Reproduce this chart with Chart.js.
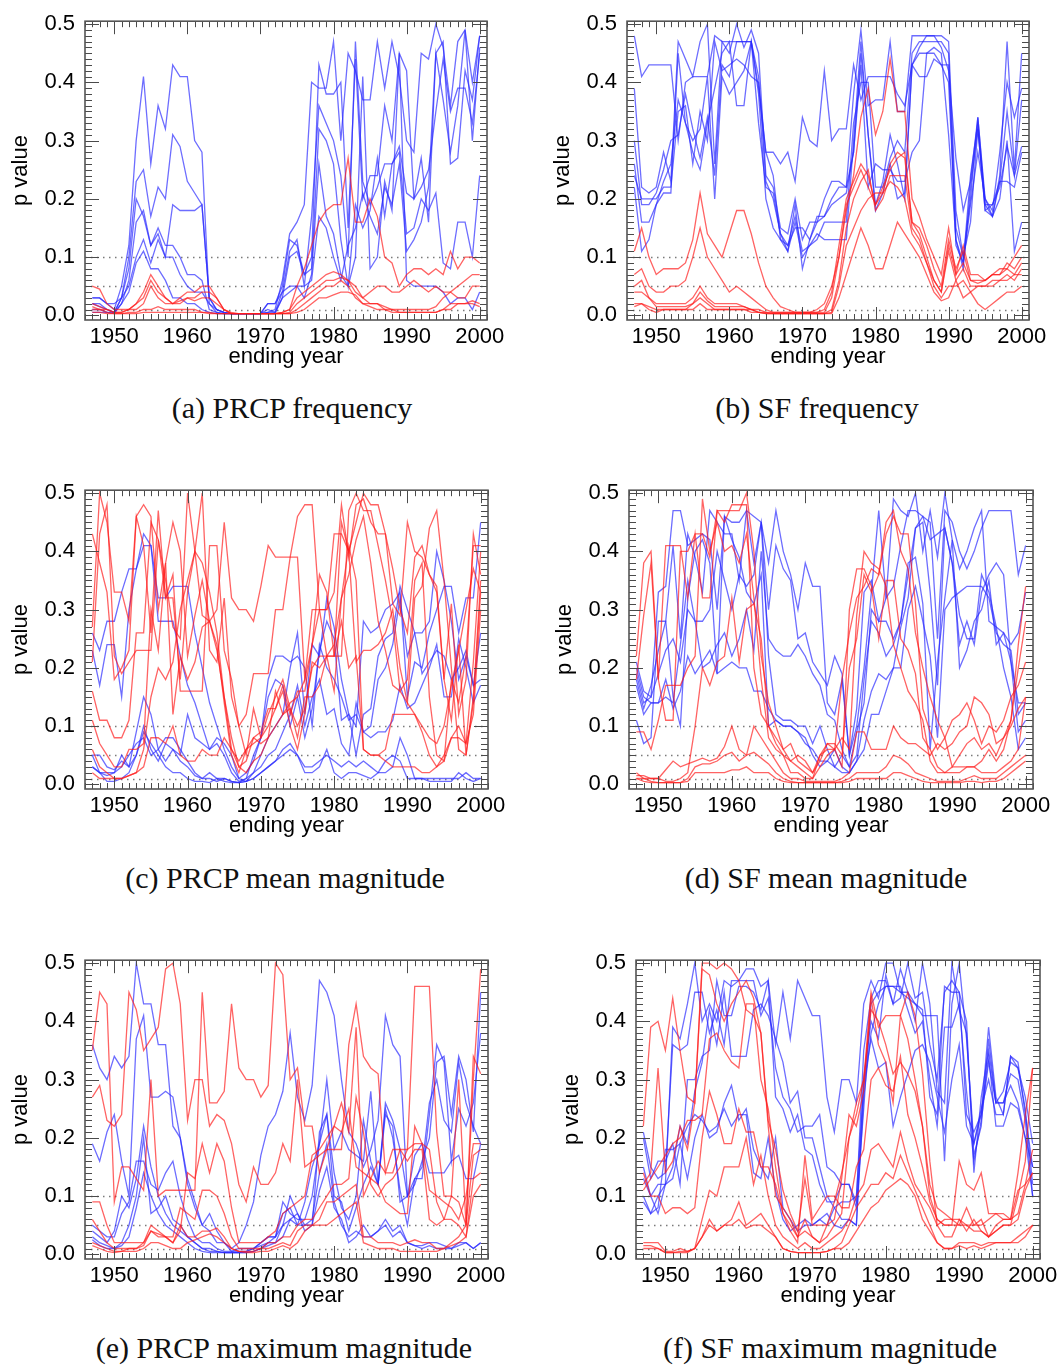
<!DOCTYPE html>
<html>
<head>
<meta charset="utf-8">
<script src="https://cdn.jsdelivr.net/npm/chart.js@4.4.1/dist/chart.umd.min.js"></script>
<style>
  body { margin: 0; background: #fff; width: 1060px; height: 1365px; position: relative; overflow: hidden; }
  .panel { position: absolute; }
  .caption { position: absolute; font-family: 'Liberation Serif', 'Times New Roman', serif; font-size: 30px; color: #111;
             transform: translateX(-50%); white-space: nowrap; line-height: 34px; }
</style>
</head>
<body>
<div class="panel" style="left:0;top:-2px;width:511px;height:372px"><canvas id="ca"></canvas></div>
<div class="panel" style="left:542px;top:-2px;width:511px;height:372px"><canvas id="cb"></canvas></div>
<div class="panel" style="left:0;top:467px;width:512px;height:372px"><canvas id="cc"></canvas></div>
<div class="panel" style="left:544px;top:467px;width:513px;height:372px"><canvas id="cd"></canvas></div>
<div class="panel" style="left:0;top:937px;width:512px;height:372px"><canvas id="ce"></canvas></div>
<div class="panel" style="left:551px;top:937px;width:513px;height:372px"><canvas id="cf"></canvas></div>

<div class="caption" style="left:292px;top:391px">(a) PRCP frequency</div>
<div class="caption" style="left:817px;top:391px">(b) SF frequency</div>
<div class="caption" style="left:285px;top:861px">(c) PRCP mean magnitude</div>
<div class="caption" style="left:826px;top:861px">(d) SF mean magnitude</div>
<div class="caption" style="left:284px;top:1331px">(e) PRCP maximum magnitude</div>
<div class="caption" style="left:830px;top:1331px">(f) SF maximum magnitude</div>

<script>
// ending years of the moving windows
const years = [1947,1948,1949,
  1950,1951,1952,1953,1954,1955,1956,1957,1958,1959,
  1960,1961,1962,1963,1964,1965,1966,1967,1968,1969,
  1970,1971,1972,1973,1974,1975,1976,1977,1978,1979,
  1980,1981,1982,1983,1984,1985,1986,1987,1988,1989,
  1990,1991,1992,1993,1994,1995,1996,1997,1998,1999,
  2000];
const yearTicks = [1950, 1960, 1970, 1980, 1990, 2000];
const pTicks = [0, 0.1, 0.2, 0.3, 0.4, 0.5];
const refLevels = [0.1, 0.05, 0.01];

// (a) PRCP frequency
const prcpFreqBlue = [
  [.03,.03,.02, .01,.05,.12,.30,.41,.26,.36,.32,.43,.41, .41,.30,.28,.02,.01,.005,.003,.003,.003,.003, .003,.005,.01,.06,.14,.16,.19,.40,.39,.39, .47,.30,.45,.42,.37,.37,.47,.39,.47,.41, .30,.28,.45,.44,.50,.46,.36,.47,.49,.40, .48],
  [.02,.02,.01, .005,.03,.10,.23,.25,.17,.22,.20,.31,.29, .23,.21,.19,.03,.01,.005,.003,.003,.003,.003, .003,.02,.02,.05,.13,.12,.07,.10,.43,.38, .38,.40,.15,.44,.20,.24,.24,.36,.30,.45, .42,.20,.22,.25,.35,.44,.35,.39,.39,.33, .45],
  [.01,.01,.005, .005,.03,.08,.20,.17,.12,.14,.10,.19,.18, .18,.18,.19,.03,.01,.005,.003,.003,.003,.003, .003,.01,.005,.04,.11,.13,.05,.17,.36,.33, .30,.24,.10,.47,.23,.19,.22,.26,.26,.29, .21,.20,.27,.16,.45,.47,.26,.27,.42,.37, .48],
  [.005,.005,.005, .003,.02,.06,.16,.18,.12,.15,.12,.12,.10, .07,.07,.06,.01,.005,.003,.003,.003,.003,.003, .003,.005,.005,.03,.10,.11,.07,.08,.32,.30, .26,.13,.05,.19,.15,.18,.27,.17,.26,.28, .14,.15,.20,.18,.21,.09,.08,.16,.16,.10, .24],
  [.03,.03,.02, .02,.03,.05,.10,.13,.09,.13,.10,.10,.07, .05,.04,.04,.02,.005,.003,.003,.003,.003,.003, .003,.02,.02,.04,.05,.05,.03,.07,.26,.17, .14,.07,.05,.10,.41,.08,.10,.23,.18,.45, .06,.05,.05,.05,.05,.04,.02,.03,.03,.01, .04],
  [.02,.015,.01, .005,.02,.04,.09,.11,.08,.08,.06,.03,.03, .02,.02,.01,.005,.003,.003,.003,.003,.003,.003, .003,.003,.003,.03,.04,.05,.05,.06,.17,.15, .10,.06,.12,.15,.21,.17,.14,.22,.19,.26, .11,.13,.16,.22,.45,.37,.28,.36,.49,.30, .46]
];
const prcpFreqRed = [
  [.05,.045,.02, .01,.01,.01,.02,.04,.07,.05,.03,.02,.03, .04,.04,.05,.05,.03,.01,.005,.003,.003,.003, .003,.003,.003,.005,.01,.05,.08,.12,.16,.18, .19,.19,.27,.16,.16,.20,.17,.10,.09,.05, .07,.08,.08,.07,.08,.07,.11,.08,.10,.10, .09],
  [.02,.015,.01, .005,.005,.01,.02,.03,.06,.04,.03,.02,.02, .03,.03,.04,.04,.03,.01,.003,.003,.003,.003, .003,.003,.003,.005,.01,.03,.04,.05,.06,.07, .075,.07,.06,.04,.03,.04,.05,.05,.04,.04, .05,.06,.05,.04,.05,.04,.04,.05,.06,.07, .07],
  [.015,.01,.01, .005,.005,.01,.01,.02,.05,.03,.02,.02,.025, .03,.025,.03,.03,.02,.01,.003,.003,.003,.003, .003,.003,.003,.003,.005,.02,.03,.04,.05,.06, .06,.065,.06,.05,.03,.02,.02,.015,.01,.01, .01,.01,.01,.01,.015,.03,.04,.03,.03,.05, .05],
  [.01,.01,.005, .003,.003,.005,.005,.01,.01,.015,.01,.01,.01, .01,.01,.005,.005,.003,.003,.003,.003,.003,.003, .003,.003,.003,.003,.003,.01,.02,.03,.04,.05, .05,.06,.05,.03,.02,.02,.02,.01,.005,.005, .005,.005,.005,.005,.005,.01,.02,.02,.02,.02, .015],
  [.005,.005,.003, .003,.003,.003,.003,.005,.005,.005,.005,.005,.005, .005,.005,.005,.003,.003,.003,.003,.003,.003,.003, .003,.003,.003,.003,.003,.005,.01,.02,.03,.03, .035,.04,.04,.035,.02,.015,.01,.01,.01,.005, .005,.005,.005,.005,.005,.01,.01,.02,.02,.025, .02]
];

// (b) SF frequency
const sfFreqBlue = [
  [.48,.41,.43, .43,.43,.43,.30,.40,.41,.41,.41,.48,.47, .47,.47,.47,.47,.39,.28,.28,.26,.28,.23, .34,.30,.29,.42,.30,.32,.32,.43,.37,.41, .41,.41,.41,.38,.36,.43,.46,.48,.48,.46, .42,.27,.18,.23,.34,.19,.19,.23,.23,.22, .28],
  [.39,.22,.21, .22,.28,.23,.47,.44,.41,.47,.50,.26,.47, .45,.50,.46,.49,.45,.24,.22,.15,.14,.20, .13,.16,.16,.20,.23,.23,.22,.38,.49,.36, .37,.37,.47,.35,.35,.48,.48,.48,.48,.48, .47,.18,.10,.20,.34,.20,.18,.28,.40,.34, .39],
  [.30,.19,.19, .21,.25,.30,.31,.38,.32,.27,.34,.24,.43, .41,.47,.47,.47,.41,.23,.20,.14,.12,.17, .11,.12,.13,.16,.16,.16,.16,.33,.40,.40, .22,.22,.27,.30,.28,.45,.47,.47,.47,.47, .45,.15,.10,.16,.32,.18,.17,.24,.47,.25, .45],
  [.26,.16,.16, .19,.21,.21,.45,.33,.28,.25,.33,.39,.45, .47,.36,.36,.47,.38,.20,.15,.13,.11,.16, .10,.12,.14,.13,.13,.13,.13,.30,.47,.31, .19,.23,.31,.26,.20,.43,.41,.41,.44,.43, .43,.12,.09,.24,.33,.18,.19,.22,.29,.24, .29],
  [.22,.11,.13, .19,.23,.26,.37,.33,.30,.32,.41,.20,.41, .38,.40,.42,.47,.33,.22,.21,.14,.11,.19, .08,.13,.16,.17,.20,.22,.22,.28,.45,.31, .18,.21,.26,.20,.21,.43,.45,.45,.46,.45, .31,.13,.08,.22,.32,.19,.17,.20,.30,.11, .16],
  [.24,.20,.20, .20,.22,.22,.35,.36,.26,.35,.30,.47,.42, .43,.44,.43,.41,.40,.28,.24,.13,.12,.15, .15,.13,.17,.17,.19,.20,.21,.28,.43,.22, .26,.25,.25,.23,.23,.28,.30,.45,.45,.43, .40,.13,.09,.19,.28,.20,.17,.23,.35,.24, .37]
];
const sfFreqRed = [
  [.11,.15,.10, .07,.08,.08,.08,.09,.13,.21,.14,.12,.10, .14,.18,.18,.14,.09,.05,.03,.015,.01,.005, .005,.005,.01,.02,.05,.10,.18,.24,.34,.39, .31,.35,.44,.35,.35,.20,.17,.13,.10,.07, .15,.07,.12,.07,.07,.06,.07,.08,.08,.10, .12],
  [.07,.08,.05, .04,.04,.05,.05,.06,.10,.15,.10,.08,.06, .04,.05,.04,.03,.02,.01,.005,.005,.005,.005, .005,.005,.005,.01,.04,.12,.20,.23,.26,.24, .19,.21,.26,.28,.27,.16,.15,.12,.08,.05, .13,.08,.11,.06,.06,.06,.07,.07,.09,.08, .10],
  [.05,.06,.03, .02,.02,.02,.02,.02,.03,.05,.03,.02,.02, .02,.02,.015,.01,.01,.005,.005,.005,.005,.005, .005,.005,.005,.005,.03,.10,.19,.22,.25,.22, .19,.22,.25,.27,.28,.16,.14,.10,.06,.04, .12,.07,.09,.06,.055,.06,.07,.07,.08,.07, .09],
  [.04,.04,.03, .015,.015,.015,.015,.015,.02,.04,.025,.015,.015, .015,.015,.015,.01,.005,.005,.003,.003,.003,.003, .003,.003,.003,.003,.01,.06,.15,.20,.23,.25, .18,.20,.24,.24,.24,.15,.13,.09,.06,.04, .11,.06,.08,.05,.05,.05,.06,.06,.07,.06, .08],
  [.02,.02,.015, .01,.01,.01,.01,.01,.01,.02,.01,.01,.01, .01,.01,.01,.005,.005,.003,.003,.003,.003,.003, .003,.003,.003,.003,.003,.03,.07,.11,.15,.12, .08,.08,.12,.16,.14,.12,.10,.07,.04,.025, .03,.06,.03,.04,.02,.01,.02,.03,.04,.04, .05],
  [.015,.02,.01, .005,.01,.01,.01,.01,.02,.03,.02,.01,.01, .01,.01,.01,.01,.005,.003,.003,.003,.003,.003, .003,.003,.003,.003,.005,.05,.12,.15,.18,.20, .21,.21,.23,.22,.20,.14,.12,.09,.05,.03, .05,.05,.06,.04,.05,.05,.05,.06,.06,.07, .07]
];

// (c) PRCP mean magnitude
const prcpMeanBlue = [
  [.26,.23,.28, .28,.33,.37,.37,.43,.41,.32,.32,.34,.34, .34,.26,.20,.14,.10,.06,.03,.01,.005,.02, .05,.08,.10,.12,.20,.26,.12,.24,.22,.32, .27,.18,.12,.10,.28,.26,.27,.30,.31,.33, .15,.21,.20,.26,.30,.34,.34,.26,.32,.32, .45],
  [.23,.17,.24, .24,.15,.30,.37,.41,.41,.28,.28,.28,.22, .17,.14,.10,.06,.07,.05,.02,.005,.01,.05, .08,.18,.22,.22,.21,.22,.20,.10,.24,.20, .18,.15,.11,.12,.09,.10,.18,.20,.24,.32, .22,.26,.26,.28,.40,.35,.28,.18,.22,.17, .18],
  [.05,.05,.03, .025,.04,.03,.09,.15,.12,.06,.04,.06,.05, .12,.08,.07,.06,.08,.07,.05,.01,.02,.04, .08,.15,.18,.17,.10,.15,.08,.13,.23,.28, .25,.11,.12,.05,.12,.13,.22,.25,.26,.34, .30,.26,.19,.21,.23,.22,.18,.20,.23,.17, .26],
  [.03,.02,.015, .02,.05,.03,.05,.10,.06,.04,.07,.06,.04, .03,.015,.01,.01,.005,.01,.005,.003,.01,.02, .03,.05,.06,.09,.12,.17,.10,.15,.18,.12, .13,.07,.05,.14,.09,.08,.09,.09,.11,.17, .13,.14,.17,.20,.24,.15,.15,.25,.20,.14, .17],
  [.05,.02,.02, .02,.03,.05,.07,.08,.05,.06,.08,.08,.06, .04,.02,.01,.02,.01,.01,.005,.003,.005,.01, .02,.03,.04,.05,.06,.05,.03,.03,.04,.05, .04,.03,.04,.03,.04,.03,.02,.02,.03,.08, .05,.01,.01,.01,.01,.01,.01,.01,.02,.01, .01],
  [.03,.02,.005, .005,.01,.02,.05,.09,.07,.05,.03,.02,.02, .01,.005,.005,.003,.01,.005,.003,.003,.005,.01, .02,.03,.04,.06,.07,.05,.02,.02,.03,.06, .02,.01,.02,.02,.015,.01,.02,.04,.05,.04, .01,.01,.01,.005,.005,.005,.005,.02,.01,.005, .01]
];
const prcpMeanRed = [
  [.43,.38,.33, .18,.20,.23,.46,.48,.46,.30,.38,.45,.40, .22,.29,.35,.28,.30,.45,.32,.30,.30,.28, .34,.41,.39,.39,.39,.39,.18,.24,.30,.30, .33,.48,.39,.48,.49,.45,.43,.43,.37,.30, .26,.39,.41,.36,.33,.18,.31,.12,.18,.43, .36],
  [.27,.50,.45, .33,.33,.28,.46,.41,.26,.47,.32,.32,.18, .33,.40,.50,.23,.21,.32,.15,.10,.12,.19, .19,.19,.30,.30,.39,.46,.48,.48,.30,.30, .43,.43,.40,.45,.50,.48,.48,.43,.31,.29, .45,.40,.39,.36,.34,.18,.11,.24,.05,.15, .35],
  [.21,.43,.48, .22,.19,.21,.23,.23,.23,.42,.32,.36,.16, .16,.16,.16,.41,.41,.23,.18,.10,.05,.13, .08,.10,.13,.17,.12,.16,.16,.24,.36,.33, .22,.22,.47,.50,.47,.47,.41,.35,.28,.16, .18,.35,.38,.15,.05,.04,.18,.14,.22,.41, .41],
  [.16,.11,.11, .08,.08,.11,.26,.26,.45,.42,.35,.27,.25, .50,.40,.29,.28,.24,.14,.05,.02,.06,.08, .07,.08,.16,.12,.13,.10,.13,.20,.22,.22, .22,.45,.40,.21,.23,.23,.24,.26,.30,.20, .14,.32,.34,.44,.47,.35,.20,.06,.05,.14, .33],
  [.11,.07,.05, .03,.03,.06,.06,.07,.30,.23,.38,.12,.22, .18,.21,.27,.28,.23,.15,.08,.03,.04,.08, .09,.13,.13,.16,.10,.06,.12,.21,.20,.22, .16,.32,.41,.35,.06,.05,.05,.06,.12,.12, .12,.12,.09,.05,.03,.04,.08,.08,.07,.21, .40],
  [.06,.03,.02, .01,.01,.015,.02,.03,.08,.08,.07,.10,.05, .04,.04,.06,.05,.05,.08,.06,.04,.06,.07, .08,.12,.15,.18,.13,.08,.15,.15,.17,.22, .22,.28,.20,.22,.06,.05,.05,.04,.03,.03, .03,.03,.02,.02,.03,.05,.08,.10,.07,.12, .30],
  [.02,.01,.01, .01,.01,.015,.02,.06,.15,.20,.18,.21,.30, .35,.40,.38,.33,.26,.15,.06,.03,.02,.04, .05,.08,.10,.12,.14,.15,.18,.30,.30,.22, .24,.32,.36,.42,.46,.38,.28,.23,.17,.16, .14,.12,.10,.08,.07,.10,.17,.23,.30,.37, .33]
];

// (d) SF mean magnitude
const sfMeanBlue = [
  [.21,.16,.15, .33,.34,.47,.47,.41,.42,.43,.42,.30,.46, .45,.45,.47,.46,.45,.38,.47,.40,.36,.30, .38,.34,.34,.14,.12,.18,.05,.10,.20,.33, .47,.32,.34,.41,.47,.47,.46,.45,.25,.47, .45,.40,.37,.40,.44,.47,.47,.47,.47,.36, .41],
  [.18,.13,.17, .23,.28,.41,.25,.43,.39,.33,.47,.45,.43, .43,.35,.47,.38,.45,.30,.41,.37,.35,.25, .26,.21,.19,.17,.22,.19,.05,.13,.33,.35, .28,.32,.49,.47,.46,.50,.40,.47,.39,.50, .42,.37,.40,.44,.47,.28,.27,.26,.24,.26, .33],
  [.11,.07,.08, .28,.28,.15,.10,.32,.40,.42,.38,.19,.46, .42,.39,.33,.31,.36,.10,.11,.10,.10,.09, .08,.05,.03,.04,.06,.03,.02,.04,.06,.12, .12,.16,.20,.27,.32,.44,.45,.33,.17,.44, .38,.29,.25,.25,.36,.33,.27,.20,.15,.06, .08],
  [.20,.15,.14, .14,.15,.14,.24,.35,.28,.28,.30,.40,.35, .30,.36,.34,.36,.45,.22,.12,.11,.11,.10, .10,.07,.10,.06,.03,.05,.03,.05,.18,.28, .26,.22,.24,.28,.38,.39,.31,.06,.21,.32, .42,.20,.23,.28,.30,.35,.24,.26,.21,.14, .14],
  [.19,.14,.15, .19,.23,.25,.21,.30,.28,.20,.21,.24,.26, .22,.25,.30,.23,.40,.25,.23,.22,.22,.24, .22,.19,.17,.12,.11,.06,.03,.09,.14,.30, .28,.28,.25,.28,.36,.44,.46,.42,.43,.44, .38,.24,.28,.24,.33,.36,.38,.36,.21,.09, .11],
  [.17,.12,.14, .14,.18,.13,.16,.22,.19,.21,.23,.19,.20, .21,.20,.20,.16,.16,.13,.11,.10,.10,.09, .07,.06,.04,.04,.03,.02,.02,.04,.11,.16, .19,.18,.20,.20,.30,.34,.28,.22,.08,.30, .32,.33,.34,.34,.34,.32,.26,.24,.23,.12, .14]
];
const sfMeanRed = [
  [.22,.38,.40, .18,.11,.11,.40,.40,.43,.43,.39,.47,.45, .48,.48,.48,.20,.12,.10,.08,.06,.07,.04, .03,.02,.05,.07,.07,.05,.20,.25,.36,.33, .36,.45,.47,.40,.37,.26,.20,.15,.11,.08, .11,.12,.14,.11,.07,.10,.09,.11,.15,.17, .21],
  [.18,.29,.38, .18,.41,.41,.41,.32,.43,.32,.32,.47,.47, .47,.47,.50,.40,.22,.14,.10,.06,.04,.05, .04,.02,.04,.07,.06,.18,.26,.32,.34,.37, .36,.43,.46,.43,.43,.31,.13,.09,.06,.08, .03,.05,.07,.08,.06,.07,.05,.08,.11,.24, .34],
  [.09,.09,.06, .11,.17,.17,.17,.20,.22,.49,.40,.45,.40, .41,.38,.43,.32,.18,.08,.06,.05,.04,.03, .02,.01,.03,.05,.06,.03,.30,.37,.37,.34, .25,.35,.35,.25,.23,.19,.08,.06,.03,.02, .03,.03,.03,.03,.04,.06,.04,.06,.11,.20, .28],
  [.02,.01,.01, .01,.005,.005,.01,.02,.10,.20,.17,.21,.22, .32,.21,.30,.31,.25,.10,.07,.05,.02,.02, .01,.01,.05,.06,.06,.08,.06,.29,.40,.38, .37,.34,.24,.20,.16,.14,.11,.04,.02,.02, .02,.02,.03,.03,.02,.02,.02,.03,.04,.06, .15],
  [.015,.015,.01, .01,.025,.04,.03,.035,.04,.045,.04,.045,.065, .10,.06,.05,.10,.08,.06,.04,.02,.01,.01, .005,.005,.005,.005,.005,.01,.02,.09,.09,.06, .06,.06,.10,.08,.07,.07,.06,.05,.07,.06, .07,.09,.10,.15,.14,.12,.07,.08,.10,.13, .15],
  [.01,.005,.003, .003,.003,.003,.003,.01,.03,.035,.035,.04,.05, .055,.04,.05,.055,.045,.035,.02,.01,.005,.003, .003,.003,.003,.003,.003,.005,.01,.02,.02,.02, .02,.03,.05,.045,.035,.02,.015,.01,.005,.005, .005,.005,.01,.015,.01,.01,.01,.02,.03,.04, .05],
  [.01,.01,.005, .003,.003,.003,.003,.005,.02,.02,.02,.02,.02, .025,.025,.03,.02,.02,.02,.01,.005,.003,.003, .003,.003,.003,.003,.003,.003,.005,.01,.01,.01, .01,.01,.02,.02,.015,.01,.005,.003,.003,.003, .003,.003,.005,.005,.003,.005,.005,.01,.02,.03, .04]
];

// (e) PRCP maximum magnitude
const prcpMaxBlue = [
  [.36,.32,.30, .34,.32,.34,.50,.43,.43,.36,.36,.22,.20, .13,.09,.05,.04,.02,.02,.01,.02,.05,.09, .17,.22,.24,.28,.38,.27,.23,.29,.47,.45, .41,.30,.21,.19,.15,.18,.23,.41,.36,.34, .10,.12,.16,.20,.33,.34,.24,.34,.30,.21, .45],
  [.19,.16,.21, .24,.16,.10,.37,.41,.27,.27,.28,.27,.20, .12,.08,.05,.07,.04,.02,.005,.01,.01,.01, .02,.03,.03,.07,.08,.05,.09,.15,.19,.30, .18,.21,.18,.17,.16,.28,.12,.24,.22,.09, .10,.17,.19,.14,.14,.14,.16,.17,.13,.13, .19],
  [.05,.04,.03, .03,.07,.09,.16,.16,.12,.11,.14,.16,.10, .06,.03,.02,.02,.01,.005,.005,.005,.005,.01, .02,.03,.03,.05,.06,.07,.04,.05,.21,.24, .14,.08,.06,.10,.23,.16,.12,.26,.23,.18, .10,.13,.13,.24,.36,.33,.16,.25,.22,.26, .38],
  [.04,.03,.02, .04,.10,.08,.13,.22,.15,.10,.07,.05,.04, .03,.02,.01,.005,.005,.003,.003,.003,.005,.01, .015,.02,.03,.09,.07,.06,.06,.10,.19,.24, .10,.09,.04,.08,.12,.15,.12,.25,.20,.11, .05,.13,.15,.26,.30,.23,.21,.33,.26,.22, .19],
  [.03,.02,.015, .01,.02,.05,.10,.20,.07,.08,.10,.06,.05, .03,.02,.01,.01,.005,.003,.003,.003,.003,.005, .01,.02,.02,.05,.10,.07,.05,.06,.14,.19, .09,.05,.03,.04,.03,.03,.04,.06,.04,.05, .02,.015,.015,.02,.02,.015,.01,.02,.02,.01, .02],
  [.025,.015,.01, .01,.015,.03,.08,.14,.10,.07,.05,.04,.03, .02,.01,.005,.003,.003,.003,.003,.003,.003,.005, .01,.015,.02,.03,.06,.05,.05,.05,.11,.15, .08,.06,.02,.03,.05,.03,.04,.05,.03,.04, .02,.015,.01,.015,.01,.01,.01,.015,.02,.01, .02]
];
const prcpMaxRed = [
  [.35,.45,.43, .09,.15,.15,.13,.11,.30,.10,.11,.11,.11, .11,.11,.45,.26,.26,.28,.43,.32,.30,.30, .27,.29,.50,.48,.30,.32,.22,.22,.14,.18, .18,.18,.36,.43,.34,.32,.31,.14,.18,.18, .18,.46,.46,.46,.21,.10,.10,.09,.05,.34, .31],
  [.27,.29,.23, .22,.24,.45,.42,.35,.37,.39,.49,.50,.43, .23,.30,.30,.22,.24,.23,.19,.12,.09,.15, .12,.12,.14,.19,.16,.30,.15,.16,.17,.18, .22,.26,.21,.39,.10,.13,.16,.14,.14,.18, .16,.18,.18,.06,.05,.06,.10,.30,.05,.30, .49],
  [.09,.09,.05, .02,.02,.02,.02,.02,.04,.03,.03,.02,.04, .14,.13,.19,.14,.19,.16,.08,.02,.02,.02, .02,.03,.04,.07,.08,.09,.10,.17,.18,.20, .22,.21,.25,.15,.14,.13,.12,.09,.08,.07, .07,.22,.19,.11,.10,.09,.08,.06,.10,.19, .19],
  [.06,.04,.02, .01,.01,.01,.01,.02,.05,.04,.03,.03,.08, .07,.06,.11,.11,.10,.07,.03,.01,.01,.01, .01,.02,.02,.03,.03,.05,.06,.06,.08,.10, .12,.12,.13,.27,.21,.12,.10,.12,.13,.15, .18,.19,.19,.18,.09,.06,.06,.05,.03,.13, .14],
  [.02,.015,.01, .005,.005,.01,.01,.015,.04,.035,.03,.02,.05, .03,.03,.04,.04,.045,.03,.01,.005,.005,.005, .01,.01,.015,.02,.015,.04,.05,.05,.06,.09, .09,.10,.11,.12,.03,.03,.02,.02,.02,.015, .02,.025,.02,.02,.01,.01,.02,.03,.05,.17, .18],
  [.015,.01,.005, .003,.005,.005,.005,.01,.02,.02,.015,.01,.01, .02,.025,.03,.035,.03,.02,.01,.005,.003,.003, .005,.005,.01,.015,.01,.02,.04,.05,.05,.05, .06,.07,.08,.09,.02,.015,.01,.01,.01,.005, .005,.005,.005,.005,.005,.01,.015,.02,.03,.10, .12]
];

// (f) SF maximum magnitude
const sfMaxBlue = [
  [.21,.15,.13, .14,.36,.35,.36,.45,.45,.38,.42,.36,.47, .47,.49,.49,.46,.47,.36,.45,.37,.47,.44, .41,.41,.27,.21,.30,.30,.26,.43,.47,.44, .50,.50,.45,.45,.43,.41,.41,.41,.16,.43, .50,.37,.19,.24,.39,.27,.24,.34,.32,.27, .19],
  [.15,.10,.07, .12,.39,.37,.43,.50,.40,.43,.40,.47,.46, .47,.47,.47,.41,.44,.32,.27,.25,.21,.22, .22,.24,.15,.14,.12,.12,.09,.35,.44,.47, .47,.43,.49,.45,.40,.50,.43,.28,.26,.50, .42,.38,.17,.22,.37,.26,.26,.31,.30,.23, .10],
  [.20,.13,.16, .16,.19,.12,.30,.30,.34,.35,.47,.41,.41, .46,.46,.45,.42,.47,.27,.25,.21,.24,.18, .17,.12,.09,.09,.12,.12,.08,.25,.43,.45, .46,.46,.46,.42,.38,.40,.30,.22,.39,.39, .43,.28,.16,.23,.33,.26,.26,.29,.26,.20, .15],
  [.10,.07,.10, .12,.13,.19,.13,.20,.24,.20,.21,.26,.29, .23,.25,.18,.15,.13,.20,.08,.06,.04,.05, .05,.06,.05,.08,.09,.09,.10,.29,.37,.32, .33,.22,.27,.31,.35,.36,.33,.27,.21,.30, .36,.22,.19,.25,.30,.24,.24,.34,.33,.24, .15],
  [.09,.07,.08, .18,.18,.19,.22,.24,.23,.21,.22,.25,.22, .24,.24,.14,.13,.20,.11,.06,.04,.05,.06, .05,.06,.07,.05,.045,.06,.05,.27,.38,.43, .46,.46,.45,.44,.43,.42,.27,.24,.46,.45, .45,.40,.14,.27,.35,.26,.28,.33,.32,.25, .12],
  [.13,.10,.12, .12,.15,.22,.19,.28,.33,.42,.36,.45,.34, .34,.34,.42,.43,.41,.37,.33,.26,.28,.20, .20,.15,.10,.08,.06,.06,.05,.30,.40,.37, .48,.43,.44,.50,.44,.45,.36,.30,.45,.47, .45,.24,.21,.24,.34,.22,.22,.26,.25,.20, .10]
];
const sfMaxRed = [
  [.22,.39,.40, .35,.44,.35,.27,.26,.49,.48,.43,.40,.43, .45,.47,.44,.38,.23,.18,.11,.07,.04,.13, .05,.05,.05,.09,.14,.20,.24,.30,.45,.39, .41,.41,.41,.45,.41,.31,.16,.05,.06,.06, .06,.05,.05,.05,.06,.07,.06,.06,.14,.24, .32],
  [.12,.14,.32, .14,.16,.22,.18,.26,.50,.50,.49,.50,.49, .47,.42,.41,.38,.22,.10,.08,.06,.03,.06, .03,.02,.05,.06,.13,.24,.22,.28,.44,.36, .33,.26,.41,.37,.30,.22,.10,.06,.05,.05, .05,.05,.04,.04,.03,.04,.05,.05,.10,.16, .32],
  [.11,.13,.15, .17,.19,.20,.23,.23,.24,.37,.38,.35,.33, .32,.43,.43,.30,.25,.15,.07,.05,.03,.04, .03,.02,.03,.05,.07,.20,.26,.30,.42,.40, .36,.31,.33,.31,.28,.22,.12,.08,.07,.06, .05,.08,.05,.06,.03,.05,.06,.06,.07,.12, .14],
  [.14,.10,.10, .07,.08,.08,.07,.08,.20,.28,.24,.19,.19, .25,.21,.21,.15,.15,.12,.07,.04,.02,.17, .06,.08,.10,.10,.08,.08,.15,.18,.30,.32, .29,.28,.34,.24,.20,.15,.09,.06,.05,.05, .16,.12,.11,.14,.07,.07,.07,.06,.11,.12, .18],
  [.02,.02,.02, .005,.005,.01,.005,.01,.06,.11,.10,.15,.15, .15,.20,.12,.17,.10,.05,.03,.02,.01,.02, .01,.01,.02,.03,.04,.06,.10,.12,.18,.19, .17,.15,.21,.16,.12,.10,.08,.05,.03,.03, .06,.04,.06,.04,.03,.04,.05,.05,.06,.11, .14],
  [.015,.015,.01, .003,.003,.005,.005,.01,.03,.06,.04,.05,.06, .09,.05,.06,.07,.05,.03,.01,.005,.003,.003, .003,.003,.005,.01,.02,.05,.08,.10,.12,.12, .14,.13,.17,.14,.11,.08,.05,.02,.01,.01, .02,.02,.02,.015,.02,.02,.02,.02,.03,.04, .05],
  [.01,.01,.01, .003,.003,.003,.003,.01,.03,.05,.04,.05,.05, .06,.045,.05,.05,.04,.03,.01,.005,.003,.003, .003,.003,.005,.01,.01,.02,.04,.06,.08,.09, .11,.12,.13,.12,.10,.06,.04,.02,.01,.01, .015,.01,.015,.01,.015,.02,.02,.02,.02,.03, .05]
];

Chart.defaults.font.family = "'Liberation Sans', Arial, Helvetica, sans-serif";
Chart.defaults.color = '#000';

const blueLine = 'rgba(40,40,255,0.68)';
const redLine = 'rgba(255,25,25,0.68)';

// box with inward ticks on all four sides + dotted significance levels
const frame = {
  id: 'frame',
  beforeDatasetsDraw(chart) {
    const {ctx, chartArea: a, scales: {y}} = chart;
    ctx.save();
    ctx.strokeStyle = '#7a7a7a';
    ctx.lineWidth = 1.5;
    ctx.setLineDash([1.5, 4.5]);
    refLevels.forEach(v => {
      const py = Math.round(y.getPixelForValue(v)) + 0.5;
      ctx.beginPath();
      ctx.moveTo(a.left, py);
      ctx.lineTo(a.right, py);
      ctx.stroke();
    });
    ctx.restore();
  },
  afterDatasetsDraw(chart) {
    const {ctx, chartArea: a, scales: {x, y}} = chart;
    ctx.save();
    ctx.strokeStyle = '#4a4a4a';
    ctx.lineWidth = 1;
    const seg = (x1, y1, x2, y2) => { ctx.beginPath(); ctx.moveTo(x1, y1); ctx.lineTo(x2, y2); ctx.stroke(); };
    for (let yr = x.min; yr <= x.max; yr++) {
      const px = Math.round(x.getPixelForValue(yr)) + 0.5;
      const len = yr % 10 === 0 ? 13 : 6;
      seg(px, a.bottom, px, a.bottom - len);
      seg(px, a.top, px, a.top + len);
    }
    for (let k = 0; k <= 50; k++) {
      const py = Math.round(y.getPixelForValue(k / 100)) + 0.5;
      const len = k % 10 === 0 ? 14 : 7;
      seg(a.left, py, a.left + len, py);
      seg(a.right, py, a.right - len, py);
    }
    ctx.lineWidth = 1.6;
    ctx.strokeStyle = '#555';
    ctx.strokeRect(a.left, a.top, a.right - a.left, a.bottom - a.top);
    ctx.restore();
  }
};

function series(vals, color) {
  if (vals.length !== years.length) throw new Error('series length ' + vals.length);
  return {
    data: vals.map((v, i) => ({x: years[i], y: v})),
    borderColor: color,
    borderWidth: 1.3,
    pointRadius: 0,
    tension: 0,
    fill: false
  };
}

function drawPanel(canvasId, blues, reds) {
  // first dataset is drawn on top, so reds go first
  const datasets = [];
  reds.forEach(s => datasets.push(series(s, redLine)));
  blues.forEach(s => datasets.push(series(s, blueLine)));

  new Chart(document.getElementById(canvasId), {
    type: 'line',
    data: {datasets},
    options: {
      responsive: true,
      maintainAspectRatio: false,
      animation: false,
      layout: {padding: {top: 14, right: 24, left: 0, bottom: 0}},
      plugins: {legend: {display: false}, tooltip: {enabled: false}},
      scales: {
        x: {
          type: 'linear', min: 1946, max: 2001,
          grid: {display: false, drawTicks: false},
          border: {display: false},
          afterBuildTicks: s => { s.ticks = yearTicks.map(v => ({value: v})); },
          ticks: {font: {size: 22}, padding: 4, maxRotation: 0, autoSkip: false, callback: v => String(v)},
          title: {display: true, text: 'ending year', font: {size: 22}, padding: {top: 0, bottom: 0}},
          afterFit: s => { s.height = 50; }
        },
        y: {
          min: -0.008, max: 0.505,
          grid: {display: false, drawTicks: false},
          border: {display: false},
          afterBuildTicks: s => { s.ticks = pTicks.map(v => ({value: v})); },
          ticks: {font: {size: 22}, padding: 10, callback: v => v.toFixed(1)},
          title: {display: true, text: 'p value', font: {size: 22}, padding: {top: 8, bottom: 0}},
          afterFit: s => { s.width = 85; }
        }
      }
    },
    plugins: [frame]
  });
}

drawPanel('ca', prcpFreqBlue, prcpFreqRed);
drawPanel('cb', sfFreqBlue, sfFreqRed);
drawPanel('cc', prcpMeanBlue, prcpMeanRed);
drawPanel('cd', sfMeanBlue, sfMeanRed);
drawPanel('ce', prcpMaxBlue, prcpMaxRed);
drawPanel('cf', sfMaxBlue, sfMaxRed);
</script>
</body>
</html>
